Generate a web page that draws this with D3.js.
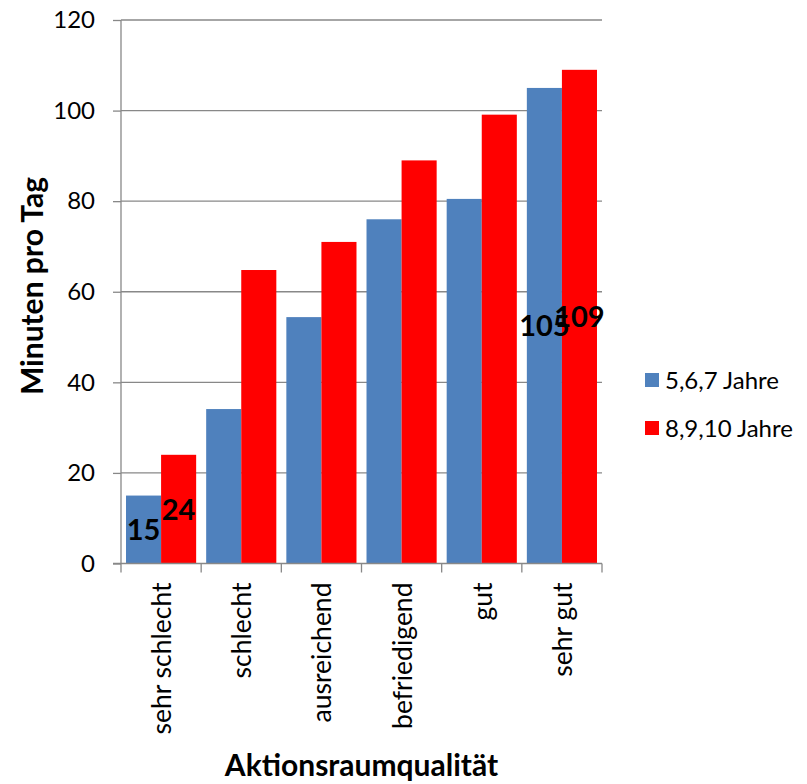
<!DOCTYPE html>
<html>
<head>
<meta charset="utf-8">
<script src="https://cdn.jsdelivr.net/npm/d3@7"></script>
<style>
  html, body { margin: 0; padding: 0; background: #fff; }
  svg { display: block; font-family: Lato, "Open Sans", sans-serif; }
</style>
</head>
<body>
<svg id="chart" width="807" height="784"></svg>
<script>
// Playing time per day by quality of the action space, two age groups
const categories = ["sehr schlecht", "schlecht", "ausreichend", "befriedigend", "gut", "sehr gut"];
const seriesNames = ["5,6,7 Jahre", "8,9,10 Jahre"];
const young = [15, 34.1, 54.4, 76, 80.5, 105];
const older = [24, 64.8, 71, 89, 99.1, 109];
const yTicks = [0, 20, 40, 60, 80, 100, 120];
// Only the outer groups carry value labels
const labelledCategories = ["sehr schlecht", "sehr gut"];
const colors = ["#4F81BD", "#FF0000"];

const svg = d3.select("#chart");
const plot = { left: 121, right: 602, top: 20, bottom: 563.5 };

const y = d3.scaleLinear().domain([0, 120]).range([plot.bottom, plot.top]);
const x0 = d3.scaleBand().domain(categories).range([plot.left, plot.right]).padding(0);
const x1 = d3.scaleBand().domain(seriesNames)
  .range([x0.bandwidth() * 0.0625, x0.bandwidth() * 0.9375]).padding(0);

const rows = categories.map((c, i) => ({ cat: c, values: [young[i], older[i]] }));

// Horizontal gridlines
svg.append("g")
  .selectAll("line")
  .data(yTicks.filter(t => t > 0))
  .join("line")
  .attr("x1", plot.left).attr("x2", plot.right)
  .attr("y1", d => y(d)).attr("y2", d => y(d))
  .attr("stroke", "#888").attr("stroke-width", 1.3);

// Bars
const groups = svg.append("g")
  .selectAll("g")
  .data(rows)
  .join("g")
  .attr("transform", d => `translate(${x0(d.cat)},0)`);

groups.selectAll("rect")
  .data(d => d.values.map((v, j) => ({ v, s: seriesNames[j], j, cat: d.cat })))
  .join("rect")
  .attr("x", d => x1(d.s))
  .attr("width", x1.bandwidth())
  .attr("y", d => y(d.v))
  .attr("height", d => y(0) - y(d.v))
  .attr("fill", d => colors[d.j]);

// Value labels centred in the bars
groups.selectAll("text")
  .data(d => labelledCategories.includes(d.cat)
    ? d.values.map((v, j) => ({ v, s: seriesNames[j] })) : [])
  .join("text")
  .attr("x", d => x1(d.s) + x1.bandwidth() / 2)
  .attr("y", d => (y(d.v) + y(0)) / 2)
  .attr("dy", "0.36em")
  .attr("text-anchor", "middle")
  .attr("font-weight", "bold")
  .attr("font-size", 29)
  .attr("fill", "#000")
  .text(d => Math.round(d.v));

// Y axis
const yAxis = svg.append("g")
  .attr("transform", `translate(${plot.left},0)`)
  .call(d3.axisLeft(y).tickValues(yTicks).tickSize(8).tickPadding(18));
yAxis.select(".domain").attr("stroke", "#888").attr("stroke-width", 1.3)
  .attr("d", `M0,${plot.bottom}V${plot.top}`);
yAxis.selectAll(".tick line").attr("stroke", "#888").attr("stroke-width", 1.3);
yAxis.selectAll(".tick text").attr("font-size", 24).attr("font-family", "Lato, sans-serif").attr("fill", "#000");

// X axis with rotated category labels
const xAxis = svg.append("g")
  .attr("transform", `translate(0,${plot.bottom})`);
xAxis.append("line")
  .attr("x1", plot.left - 8).attr("x2", plot.right)
  .attr("stroke", "#888").attr("stroke-width", 1.3);
xAxis.selectAll("line.tk")
  .data(categories.map(c => x0(c)).concat([plot.right]))
  .join("line").attr("class", "tk")
  .attr("x1", d => d).attr("x2", d => d)
  .attr("y1", 0).attr("y2", 9)
  .attr("stroke", "#888").attr("stroke-width", 1.3);
xAxis.selectAll("text")
  .data(categories)
  .join("text")
  .attr("transform", d => `translate(${x0(d) + x0.bandwidth() / 2 + 10},19) rotate(-90)`)
  .attr("text-anchor", "end")
  .attr("font-size", 26.5)
  .attr("fill", "#000")
  .text(d => d);

// Axis titles
svg.append("text")
  .attr("x", (plot.left + plot.right) / 2)
  .attr("y", 776)
  .attr("text-anchor", "middle")
  .attr("font-weight", "bold")
  .attr("font-size", 30)
  .text("Aktionsraumqualität");

svg.append("text")
  .attr("transform", `translate(43,286) rotate(-90)`)
  .attr("text-anchor", "middle")
  .attr("font-weight", "bold")
  .attr("font-size", 30)
  .text("Minuten pro Tag");

// Legend
const legend = svg.append("g").attr("transform", "translate(645,373)");
const items = legend.selectAll("g")
  .data(seriesNames)
  .join("g")
  .attr("transform", (d, i) => `translate(0,${i * 48})`);
items.append("rect")
  .attr("width", 14).attr("height", 14)
  .attr("fill", (d, i) => colors[i]);
items.append("text")
  .attr("x", 20).attr("y", 7).attr("dy", "0.36em")
  .attr("font-size", 24)
  .text(d => d);
</script>
</body>
</html>
